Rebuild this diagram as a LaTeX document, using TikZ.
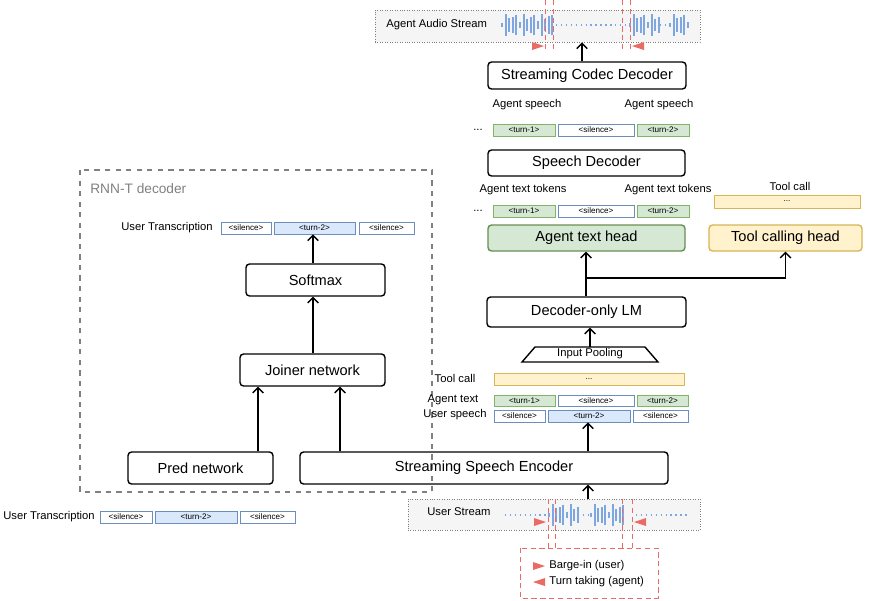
\documentclass[tikz,border=0pt]{standalone}
\usepackage{fontspec}
\setmainfont{Liberation Sans}
\setsansfont{Liberation Sans}
\usetikzlibrary{arrows.meta,calc,positioning,shapes.geometric}
\definecolor{gfill}{HTML}{D5E8D4}\definecolor{gline}{HTML}{82B366}
\definecolor{bfill}{HTML}{DAE8FC}\definecolor{bline}{HTML}{6C8EBF}
\definecolor{yfill}{HTML}{FFF2CC}\definecolor{yline}{HTML}{D6B656}
\definecolor{wave}{HTML}{7EA6E0}\definecolor{redm}{HTML}{EA6B66}
\newcommand{\boxat}[7]{\node[#6, minimum width={(#4-#2)*0.02cm}, minimum height={(#5-#3)*0.02cm}]
  (#1) at ({(#2+#4)/2},{(#3+#5)/2}) {#7};}
\newcommand{\bars}[3]{\foreach \i in {0,...,#2}
  \draw[wave, line width=1.1pt] ({#1+3.6*\i},{#3-2-9*abs(sin(\i*73))}) -- ({#1+3.6*\i},{#3+2+9*abs(sin(\i*73))});}
\begin{document}
\begin{tikzpicture}[x=0.02cm, y=-0.02cm, font=\sffamily,
  box/.style={draw, thick, rounded corners=2pt, inner sep=0pt, font=\sffamily\fontsize{8.3}{9}\selectfont},
  tok/.style={draw, inner sep=0pt, font=\sffamily\fontsize{4.6}{5}\selectfont},
  tg/.style={tok, fill=gfill, draw=gline},
  tw/.style={tok, fill=white, draw=bline},
  tb/.style={tok, fill=bfill, draw=bline},
  ty/.style={tok, fill=yfill, draw=yline},
  lbl/.style={font=\sffamily\fontsize{6.4}{7}\selectfont, inner sep=0pt},
  stream/.style={draw=gray, densely dotted, fill=gray!8, inner sep=0pt},
  cut/.style={redm, densely dashed, thin},
  arr/.style={-{Straight Barb[length=3pt]}, thick}]
\useasboundingbox (0,0) rectangle (873,600);

% RNN-T decoder frame
\draw[gray, dashed, thick] (80,170) rectangle (432,492);
\node[lbl, gray, font=\sffamily\fontsize{7.8}{9}\selectfont, anchor=west] (rnnt) at (90,189) {RNN-T decoder};

% audio streams
\boxat{agentstream}{375}{10}{700}{42}{stream}{}
\node[lbl, anchor=west] (agentlbl) at (386,25) {Agent Audio Stream};
\bars{502}{14}{25}
\draw[wave, thick, dotted] (556,25) -- (625,25);
\bars{630}{8}{25}
\draw[wave, thick, dotted] (660,25) -- (668,25);
\bars{670}{5}{25}
\foreach \x in {545,553,622,630} \draw[cut] (\x,0) -- (\x,52);
\fill[redm] (532,42) -- (544,46) -- (532,50) -- cycle;
\fill[redm] (644,42) -- (632,46) -- (644,50) -- cycle;

\boxat{userstream}{408}{499}{700}{530}{stream}{}
\node[lbl, anchor=west] (userlbl) at (427,512) {User Stream};
\draw[wave, thick, dotted] (505,515) -- (546,515);
\bars{549}{8}{515}
\draw[wave, thick, dotted] (578,515) -- (589,515);
\bars{591}{9}{515}
\draw[wave, thick, dotted] (636,515) -- (690,515);
\foreach \x in {548,555,622,632} \draw[cut] (\x,499) -- (\x,548);
\fill[redm] (534,518) -- (546,522) -- (534,526) -- cycle;
\fill[redm] (646,518) -- (634,522) -- (646,526) -- cycle;
\draw[cut] (520,548) rectangle (658,598);
\fill[redm] (533,562) -- (545,566) -- (533,570) -- cycle;
\fill[redm] (545,578) -- (533,582) -- (545,586) -- cycle;
\node[lbl, anchor=west] (bargein) at (549,566) {Barge-in (user)};
\node[lbl, anchor=west] (turntake) at (549,582) {Turn taking (agent)};

% agent side
\boxat{codec}{488}{62}{686}{89}{box}{Streaming Codec Decoder}
\node[lbl] (asp1) at (527,105) {Agent speech};
\node[lbl] (asp2) at (659,105) {Agent speech};
\node[lbl] (dots1) at (478,130) {...};
\boxat{s1}{493}{124}{555}{136}{tg}{<turn-1>}
\boxat{s2}{558}{124}{634}{136}{tw}{<silence>}
\boxat{s3}{637}{124}{689}{136}{tg}{<turn-2>}
\boxat{spdec}{488}{150}{685}{176}{box}{Speech Decoder}
\node[lbl] (att1) at (523,190) {Agent text tokens};
\node[lbl] (att2) at (668,190) {Agent text tokens};
\node[lbl] (tc1) at (790,186) {Tool call};
\node[lbl] (dots2) at (478,211) {...};
\boxat{t1}{493}{205}{555}{217}{tg}{<turn-1>}
\boxat{t2}{558}{205}{634}{217}{tw}{<silence>}
\boxat{t3}{637}{205}{689}{217}{tg}{<turn-2>}
\boxat{tcbar}{714}{195}{860}{208}{ty}{...}
\boxat{texthead}{488}{225}{685}{251}{box, fill=gfill, draw=gline!80!black}{Agent text head}
\boxat{toolhead}{709}{225}{862}{251}{box, fill=yfill, draw=yline}{Tool calling head}
\boxat{lm}{487}{297}{686}{327}{box}{Decoder-only LM}
\draw[thick] (522,362) -- (535,347) -- (645,347) -- (658,362) -- cycle;
\node[lbl] (pool) at (590,354) {Input Pooling};
\node[lbl] (tc2) at (455,378) {Tool call};
\boxat{tcin}{494}{373}{684}{385}{ty}{...}
\node[lbl] (atxt) at (453,400) {Agent text};
\boxat{a1}{494}{395}{555}{406}{tg}{<turn-1>}
\boxat{a2}{558}{395}{634}{406}{tw}{<silence>}
\boxat{a3}{637}{395}{688}{406}{tg}{<turn-2>}
\node[lbl] (usp) at (455,415) {User speech};
\boxat{u1}{494}{410}{545}{422}{tw}{<silence>}
\boxat{u2}{548}{410}{630}{422}{tb}{<turn-2>}
\boxat{u3}{633}{410}{688}{422}{tw}{<silence>}
\boxat{enc}{300}{452}{668}{484}{box}{Streaming Speech Encoder}
\boxat{pred}{128}{452}{273}{484}{box}{Pred network}

% RNN-T side
\node[lbl] (ut1) at (167,228) {User Transcription};
\boxat{r1}{221}{222}{271}{234}{tw}{<silence>}
\boxat{r2}{274}{222}{355}{234}{tb}{<turn-2>}
\boxat{r3}{359}{222}{414}{234}{tw}{<silence>}
\boxat{softmax}{246}{264}{385}{296}{box}{Softmax}
\boxat{joiner}{240}{354}{385}{386}{box}{Joiner network}
\node[lbl] (ut2) at (49,517) {User Transcription};
\boxat{b1}{100}{511}{152}{523}{tw}{<silence>}
\boxat{b2}{155}{511}{237}{523}{tb}{<turn-2>}
\boxat{b3}{240}{511}{295}{523}{tw}{<silence>}

% connectors
\coordinate (poolTop) at (590,347);
\coordinate (branch) at (586,278);
\draw[arr] (codec.north -| 582,0) -- (agentstream.south -| 582,0);
\draw[arr] (lm.north -| branch) -- (texthead.south -| branch);
\draw[arr] (branch) -| (toolhead.south);
\draw[arr] (poolTop) -- (lm.south -| poolTop);
\draw[arr] (enc.north -| 588,0) -- (u2.south -| 588,0);
\draw[arr] (userstream.north -| 588,0) -- (enc.south -| 588,0);
\draw[arr] (pred.north -| 258,0) -- (joiner.south -| 258,0);
\draw[arr] (enc.north -| 340,0) -- (joiner.south -| 340,0);
\draw[arr] (joiner.north -| 313,0) -- (softmax.south -| 313,0);
\draw[arr] (softmax.north -| 313,0) -- (r2.south -| 313,0);
\end{tikzpicture}
\end{document}
